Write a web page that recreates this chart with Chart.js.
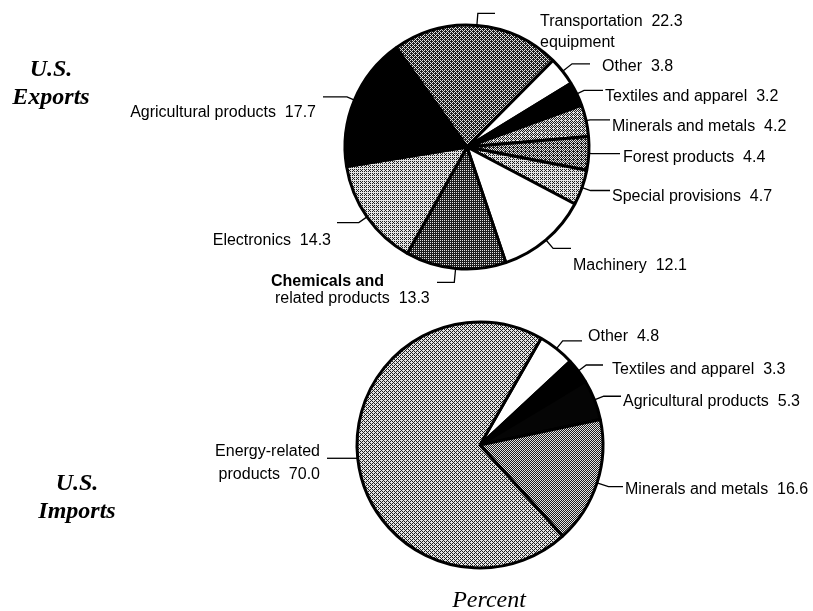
<!DOCTYPE html>
<html>
<head>
<meta charset="utf-8">
<script src="https://cdn.jsdelivr.net/npm/chart.js@4.4.1/dist/chart.umd.min.js"></script>
<style>
  html, body { margin: 0; padding: 0; background: #fff; }
  #wrap { position: relative; width: 813px; height: 611px; overflow: hidden; background: #fff; }
  #wrap canvas { position: absolute; left: 0; top: 0; }
  .side {
    position: absolute; width: 150px; text-align: center;
    font-family: "Liberation Serif", "Times New Roman", serif;
    font-weight: bold; font-style: italic; font-size: 24px; line-height: 28px;
  }
  .axis {
    position: absolute; width: 200px; text-align: center;
    font-family: "Liberation Serif", "Times New Roman", serif;
    font-style: italic; font-size: 24px; line-height: 24px;
  }
</style>
</head>
<body>
<div id="wrap">
  <canvas id="exports" width="813" height="611"></canvas>
  <canvas id="imports" width="813" height="611"></canvas>
  <div class="side" style="left:-24px; top:54px;">U.S.<br>Exports</div>
  <div class="side" style="left:2px; top:468px;">U.S.<br>Imports</div>
  <div class="axis" style="left:389px; top:587px;">Percent</div>
</div>
<script>
// Shares of U.S. merchandise trade by sector, percent
const exportCategories = [
  "Transportation\nequipment", "Other", "Textiles and apparel", "Minerals and metals",
  "Forest products", "Special provisions", "Machinery", "Chemicals and\nrelated products",
  "Electronics", "Agricultural products"
];
const exportShares = [22.3, 3.8, 3.2, 4.2, 4.4, 4.7, 12.1, 13.3, 14.3, 17.7];

const importCategories = [
  "Other", "Textiles and apparel", "Agricultural products", "Minerals and metals",
  "Energy-related\nproducts"
];
const importShares = [4.8, 3.3, 5.3, 16.6, 70.0];

// Ordered-dither tiles give the halftone look of the slice fills
const BAYER = [[0, 8, 2, 10], [12, 4, 14, 6], [3, 11, 1, 9], [15, 7, 13, 5]];
function dither(ctx, level, dark = '#1e1e1e', light = '#e4e4e4') {
  const tile = document.createElement('canvas');
  tile.width = tile.height = 4;
  const g = tile.getContext('2d');
  for (let y = 0; y < 4; y++) {
    for (let x = 0; x < 4; x++) {
      g.fillStyle = (BAYER[y][x] + 0.5) / 16 < level ? light : dark;
      g.fillRect(x, y, 1, 1);
    }
  }
  return ctx.createPattern(tile, 'repeat');
}

// Leader line + label placement for each slice
const exportLabelLayout = [
  { ext: 12, end: 495, valueLine: 0, lines: [{ x: 540, y: 22 }, { x: 540, y: 43 }] },
  { ext: 12, end: 590, valueLine: 0, lines: [{ x: 602, y: 67 }] },
  { ext: 8,  end: 603, valueLine: 0, lines: [{ x: 605, y: 97 }] },
  { ext: 4,  end: 610, valueLine: 0, lines: [{ x: 612, y: 127 }] },
  { ext: 3,  end: 620, valueLine: 0, lines: [{ x: 623, y: 158 }] },
  { ext: 9,  end: 610, valueLine: 0, lines: [{ x: 612, y: 197 }] },
  { ext: 11, end: 571, valueLine: 0, lines: [{ x: 573, y: 266 }] },
  { ext: 14, end: 437, valueLine: 1, lines: [{ x: 271, y: 282, bold: true }, { x: 275, y: 299 }] },
  { ext: 10, end: 337, valueLine: 0, lines: [{ x: 331, y: 241, align: 'right' }] },
  { ext: 8,  end: 323, valueLine: 0, lines: [{ x: 316, y: 113, align: 'right' }] }
];
const importLabelLayout = [
  { ext: 10, end: 582, valueLine: 0, lines: [{ x: 588, y: 337 }] },
  { ext: 10, end: 603, valueLine: 0, lines: [{ x: 612, y: 370 }] },
  { ext: 10, end: 621, valueLine: 0, lines: [{ x: 623, y: 402 }] },
  { ext: 12, end: 623, valueLine: 0, lines: [{ x: 625, y: 490 }] },
  { ext: 0,  end: 327, valueLine: 1, lines: [{ x: 320, y: 452, align: 'right' }, { x: 320, y: 475, align: 'right' }] }
];

const leaderLabels = {
  id: 'leaderLabels',
  afterDatasetsDraw(chart, args, opts) {
    const ctx = chart.ctx;
    const meta = chart.getDatasetMeta(0);
    const values = chart.data.datasets[0].data;
    ctx.save();
    ctx.strokeStyle = '#000';
    ctx.fillStyle = '#000';
    ctx.lineWidth = 1.3;
    ctx.textBaseline = 'middle';
    meta.data.forEach((arc, i) => {
      const p = arc.getProps(['x', 'y', 'startAngle', 'endAngle', 'outerRadius'], true);
      const mid = (p.startAngle + p.endAngle) / 2;
      const L = opts.layout[i];
      const ax = p.x + Math.cos(mid) * p.outerRadius;
      const ay = p.y + Math.sin(mid) * p.outerRadius;
      const ex = ax + Math.cos(mid) * L.ext;
      const ey = ay + Math.sin(mid) * L.ext;
      ctx.beginPath();
      ctx.moveTo(ax, ay);
      ctx.lineTo(ex, ey);
      ctx.lineTo(L.end, ey);
      ctx.stroke();
      chart.data.labels[i].split('\n').forEach((text, k) => {
        const ln = L.lines[k];
        const s = k === L.valueLine ? text + '  ' + values[i].toFixed(1) : text;
        ctx.font = (ln.bold ? 'bold ' : '') + '16px "Liberation Sans", Arial, sans-serif';
        ctx.textAlign = ln.align || 'left';
        ctx.fillText(s, ln.x, ln.y);
      });
    });
    ctx.restore();
  }
};

function pieChart(id, labels, data, fills, rotation, radius, padding, layout) {
  const el = document.getElementById(id);
  return new Chart(el, {
    type: 'pie',
    data: {
      labels,
      datasets: [{ data, backgroundColor: fills, borderColor: '#000', borderWidth: 3 }]
    },
    options: {
      responsive: false,
      animation: false,
      devicePixelRatio: 1,
      events: [],
      rotation,
      radius,
      layout: { padding },
      plugins: {
        legend: { display: false },
        tooltip: { enabled: false },
        leaderLabels: { layout }
      }
    },
    plugins: [leaderLabels]
  });
}

const ectx = document.getElementById('exports').getContext('2d');
const exportFills = [
  dither(ectx, 0.38),        // transportation equipment
  '#ffffff',                 // other
  '#000000',                 // textiles and apparel
  dither(ectx, 0.56),        // minerals and metals
  dither(ectx, 0.45),        // forest products
  dither(ectx, 0.70),        // special provisions
  '#ffffff',                 // machinery
  dither(ectx, 0.28),        // chemicals
  dither(ectx, 0.66),        // electronics
  '#000000'                  // agricultural products
];
const ictx = document.getElementById('imports').getContext('2d');
const importFills = [
  '#ffffff',                 // other
  '#000000',                 // textiles and apparel
  '#050505',                 // agricultural products
  dither(ictx, 0.50),        // minerals and metals
  dither(ictx, 0.60)         // energy-related products
];

pieChart('exports', exportCategories, exportShares, exportFills, -35.5, 122,
  { left: 345, right: 224, top: 25, bottom: 342 }, exportLabelLayout);
pieChart('imports', importCategories, importShares, importFills, 29.8, 123,
  { left: 357, right: 210, top: 322, bottom: 43 }, importLabelLayout);
</script>
</body>
</html>
